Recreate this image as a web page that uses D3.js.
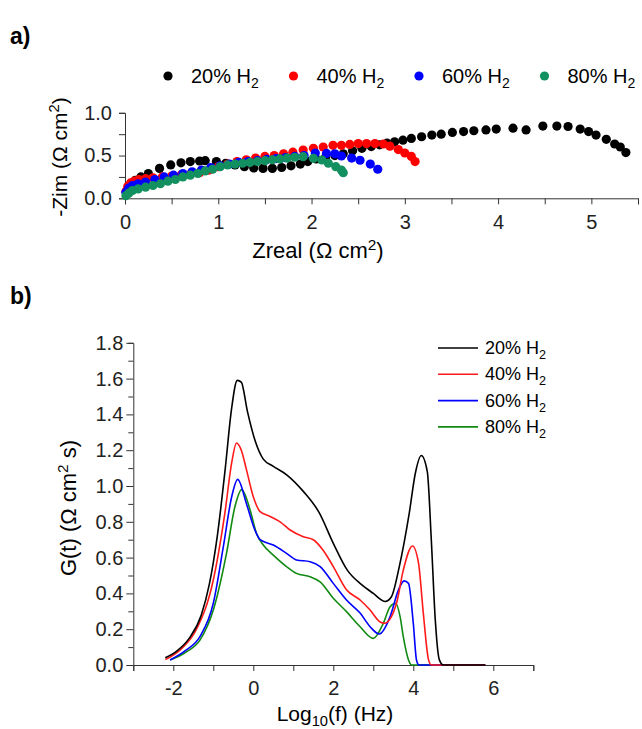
<!DOCTYPE html>
<html>
<head>
<meta charset="utf-8">
<script src="https://cdn.jsdelivr.net/npm/d3@7"></script>
<style>
  body { margin: 0; background: #fff; }
  svg { font-family: "Liberation Sans", Arial, sans-serif; }
  .axis path, .axis line { stroke: #333; }
  .axis text { font-size: 20px; fill: #222; }
</style>
</head>
<body>
<svg id="chart"></svg>
<script>
const width = 642;
const height = 729;

// series labels and colours
const series = ["20%", "40%", "60%", "80%"];
const dotColors = ["#000000", "#ff0000", "#0000ff", "#13905f"];
const lineColors = ["#000000", "#ff1a1a", "#0000ff", "#118a11"];

// panel a) Nyquist data: [Zreal, -Zim]
const nyq20 = [[0.03,0.10],[0.07,0.16],[0.11,0.21],[0.17,0.25],[0.25,0.29],[0.37,0.35],[0.49,0.39],[0.60,0.415],[0.70,0.43],[0.80,0.436],[0.86,0.44],[0.98,0.43],[1.08,0.41],[1.18,0.39],[1.28,0.37],[1.38,0.355],[1.48,0.35],[1.58,0.35],[1.68,0.36],[1.78,0.38],[1.88,0.40],[1.96,0.43],[2.05,0.46],[2.15,0.48],[2.25,0.50],[2.34,0.52],[2.44,0.555],[2.54,0.585],[2.64,0.605],[2.73,0.625],[2.81,0.645],[2.89,0.66],[2.98,0.68],[3.07,0.70],[3.18,0.72],[3.29,0.74],[3.39,0.75],[3.51,0.77],[3.63,0.78],[3.74,0.79],[3.87,0.80],[3.98,0.81],[4.16,0.82],[4.30,0.80],[4.48,0.845],[4.63,0.845],[4.75,0.84],[4.88,0.81],[4.97,0.78],[5.05,0.74],[5.16,0.69],[5.25,0.635],[5.31,0.60],[5.37,0.535]];
const nyq40 = [[0.01,0.08],[0.03,0.14],[0.06,0.18],[0.10,0.20],[0.15,0.22],[0.22,0.23],[0.30,0.24],[0.40,0.25],[0.50,0.26],[0.60,0.27],[0.70,0.28],[0.80,0.30],[0.90,0.33],[1.00,0.37],[1.10,0.40],[1.20,0.43],[1.30,0.45],[1.40,0.47],[1.50,0.49],[1.60,0.50],[1.70,0.52],[1.80,0.54],[1.91,0.565],[2.02,0.585],[2.125,0.60],[2.23,0.62],[2.32,0.62],[2.41,0.63],[2.50,0.64],[2.59,0.64],[2.68,0.64],[2.77,0.635],[2.84,0.61],[2.93,0.57],[3.00,0.53],[3.07,0.49],[3.11,0.43]];
const nyq60 = [[0.01,0.07],[0.04,0.12],[0.08,0.15],[0.14,0.17],[0.22,0.19],[0.32,0.22],[0.42,0.25],[0.52,0.27],[0.62,0.29],[0.72,0.31],[0.82,0.33],[0.92,0.36],[1.02,0.38],[1.12,0.40],[1.22,0.42],[1.32,0.43],[1.42,0.44],[1.52,0.455],[1.62,0.465],[1.72,0.475],[1.82,0.49],[1.92,0.50],[2.04,0.53],[2.16,0.525],[2.25,0.52],[2.32,0.495],[2.43,0.47],[2.52,0.445],[2.63,0.40],[2.71,0.34]];
const nyq80 = [[0.01,0.03],[0.04,0.06],[0.08,0.09],[0.14,0.11],[0.22,0.13],[0.30,0.15],[0.38,0.17],[0.46,0.20],[0.54,0.22],[0.62,0.25],[0.70,0.27],[0.78,0.29],[0.86,0.32],[0.94,0.34],[1.02,0.37],[1.10,0.39],[1.18,0.40],[1.26,0.41],[1.34,0.42],[1.42,0.43],[1.50,0.44],[1.58,0.45],[1.66,0.46],[1.74,0.47],[1.82,0.48],[1.91,0.487],[2.02,0.468],[2.11,0.448],[2.18,0.41],[2.26,0.37],[2.32,0.33],[2.34,0.30]];

// panel b) DRT data: [log10(f), G(t)]
const drt20 = [[-2.2,0.04],[-1.9,0.08],[-1.6,0.15],[-1.3,0.28],[-1.1,0.45],[-0.9,0.72],[-0.7,1.1],[-0.55,1.42],[-0.4,1.59],[-0.3,1.58],[-0.15,1.42],[0.05,1.25],[0.25,1.15],[0.5,1.11],[0.85,1.06],[1.25,0.97],[1.65,0.85],[2.0,0.68],[2.35,0.53],[2.7,0.45],[3.0,0.40],[3.3,0.355],[3.45,0.38],[3.65,0.55],[3.9,0.85],[4.05,1.07],[4.2,1.17],[4.35,1.08],[4.45,0.7],[4.55,0.25],[4.65,0.03],[4.75,0.0],[5.8,0.0]];
const drt40 = [[-2.2,0.03],[-1.8,0.09],[-1.42,0.2],[-1.0,0.475],[-0.71,0.85],[-0.54,1.13],[-0.42,1.24],[-0.3,1.2],[-0.17,1.09],[0.0,0.94],[0.17,0.857],[0.42,0.83],[0.67,0.80],[0.92,0.754],[1.25,0.717],[1.5,0.70],[1.75,0.64],[2.0,0.55],[2.33,0.42],[2.67,0.363],[2.92,0.307],[3.17,0.24],[3.28,0.233],[3.58,0.345],[3.75,0.53],[3.98,0.665],[4.13,0.57],[4.25,0.29],[4.38,0.03],[4.45,0.0],[5.8,0.0]];
const drt60 = [[-2.08,0.028],[-1.7,0.08],[-1.33,0.16],[-1.0,0.345],[-0.75,0.66],[-0.54,0.94],[-0.39,1.037],[-0.17,0.90],[0.04,0.754],[0.17,0.70],[0.5,0.67],[0.83,0.624],[1.08,0.587],[1.42,0.577],[1.67,0.55],[2.0,0.456],[2.33,0.363],[2.67,0.29],[2.92,0.214],[3.15,0.173],[3.42,0.27],[3.63,0.42],[3.77,0.47],[3.88,0.456],[4.0,0.233],[4.08,0.028],[4.14,0.0],[5.8,0.0]];
const drt80 = [[-2.08,0.028],[-1.7,0.07],[-1.33,0.14],[-1.0,0.307],[-0.67,0.624],[-0.46,0.884],[-0.29,0.98],[-0.08,0.866],[0.08,0.735],[0.25,0.67],[0.5,0.614],[0.83,0.55],[1.08,0.512],[1.42,0.493],[1.67,0.465],[2.0,0.373],[2.33,0.298],[2.67,0.214],[3.0,0.149],[3.25,0.233],[3.42,0.326],[3.56,0.345],[3.67,0.27],[3.75,0.158],[3.88,0.028],[3.96,0.0],[5.8,0.0]];

const nyqData = [nyq20, nyq40, nyq60, nyq80];
const drtData = [drt20, drt40, drt60, drt80];

const svg = d3.select("#chart").attr("width", width).attr("height", height);

// helper: text with H2 subscript
function h2Label(sel, pct) {
  sel.append("tspan").text(pct + " H");
  sel.append("tspan").attr("font-size", "0.7em").attr("dy", 5).text("2");
}

// helper: "(Ω cm²" + rest
function unitLabel(sel, pre, post) {
  sel.append("tspan").text(pre + "(Ω cm");
  sel.append("tspan").attr("font-size", "0.7em").attr("dy", -8).text("2");
  sel.append("tspan").attr("dy", 8).text(post);
}

// panel labels
svg.append("text").attr("x", 10).attr("y", 44)
  .attr("font-size", 23).attr("font-weight", "bold").text("a)");
svg.append("text").attr("x", 10).attr("y", 304)
  .attr("font-size", 23).attr("font-weight", "bold").text("b)");

// ---------- panel a ----------
const xA = d3.scaleLinear().domain([0, 5.5]).range([125, 638]);
const yA = d3.scaleLinear().domain([0, 1]).range([198.3, 112.8]);

const gA = svg.append("g");

gA.append("g").attr("class", "axis")
  .attr("transform", `translate(0,${yA(0)})`)
  .call(d3.axisBottom(xA).tickValues(d3.range(0, 5.51, 0.5)).tickSize(6)
    .tickFormat(d => Number.isInteger(d) ? d : ""))
  .call(g => g.selectAll("text").attr("dy", "1.1em"));

gA.append("g").attr("class", "axis")
  .attr("transform", `translate(${xA(0)},0)`)
  .call(d3.axisLeft(yA).tickValues(d3.range(0, 1.01, 0.25)).tickSize(6)
    .tickFormat(d => d % 0.5 === 0 ? d3.format(".1f")(d) : ""))
  .call(g => g.selectAll("text").attr("x", -13));

nyqData.forEach((data, i) => {
  gA.append("g").selectAll("circle")
    .data(data)
    .enter()
    .append("circle")
    .attr("cx", d => xA(d[0]))
    .attr("cy", d => yA(d[1]))
    .attr("r", 4.6)
    .attr("fill", dotColors[i]);
});

// axis titles a
const xtA = svg.append("text").attr("x", 318).attr("y", 258)
  .attr("text-anchor", "middle").attr("font-size", 22);
xtA.append("tspan").text("Zreal ");
unitLabel(xtA, "", ")");

const ytA = svg.append("text")
  .attr("transform", "translate(67,157) rotate(-90)")
  .attr("text-anchor", "middle").attr("font-size", 21);
ytA.append("tspan").text("-Zim ");
unitLabel(ytA, "", ")");

// legend a
const legA = svg.append("g").attr("transform", "translate(0,76)");
series.forEach((s, i) => {
  const x0 = 168 + i * 125.5;
  legA.append("circle").attr("cx", x0).attr("cy", 0).attr("r", 4.6).attr("fill", dotColors[i]);
  const t = legA.append("text").attr("x", x0 + 23).attr("y", 7).attr("font-size", 20);
  h2Label(t, s);
});

// ---------- panel b ----------
const xB = d3.scaleLinear().domain([-3, 7]).range([133.3, 533.3]);
const yB = d3.scaleLinear().domain([0, 1.8]).range([665, 342.8]);

const gB = svg.append("g");

gB.append("g").attr("class", "axis")
  .attr("transform", `translate(0,${yB(0)})`)
  .call(d3.axisBottom(xB).tickValues(d3.range(-3, 7.01, 1)).tickSize(6)
    .tickFormat(d => d % 2 === 0 ? d : ""))
  .call(g => g.selectAll("text").attr("dy", "1.05em"));

gB.append("g").attr("class", "axis")
  .attr("transform", `translate(${xB(-3)},0)`)
  .call(d3.axisLeft(yB).tickValues(d3.range(0, 1.81, 0.1).map(v => +v.toFixed(1))).tickSize(5)
    .tickFormat(d => Math.round(d * 10) % 2 === 0 ? d3.format(".1f")(d) : ""))
  .call(g => g.selectAll(".tick").filter(d => Math.round(d * 10) % 2 === 0)
    .select("line").attr("x2", -7))
  .call(g => g.selectAll("text").attr("x", -10));

const line = d3.line()
  .x(d => xB(d[0]))
  .y(d => yB(d[1]))
  .curve(d3.curveMonotoneX);

drtData.slice().reverse().forEach((data, j) => {
  const i = drtData.length - 1 - j;
  gB.append("path")
    .datum(data)
    .attr("fill", "none")
    .attr("stroke", lineColors[i])
    .attr("stroke-width", 1.6)
    .attr("d", line);
});

// axis titles b
const xtB = svg.append("text").attr("x", 335).attr("y", 721)
  .attr("text-anchor", "middle").attr("font-size", 21);
xtB.append("tspan").text("Log");
xtB.append("tspan").attr("font-size", "0.7em").attr("dy", 5).text("10");
xtB.append("tspan").attr("dy", -5).text("(f) (Hz)");

const ytB = svg.append("text")
  .attr("transform", "translate(76,508) rotate(-90)")
  .attr("text-anchor", "middle").attr("font-size", 22);
ytB.append("tspan").text("G(t) ");
unitLabel(ytB, "", " s)");

// legend b
const legB = svg.append("g");
series.forEach((s, i) => {
  const y0 = 348 + i * 26.3;
  legB.append("line").attr("x1", 438).attr("x2", 478).attr("y1", y0).attr("y2", y0)
    .attr("stroke", lineColors[i]).attr("stroke-width", 1.6);
  const t = legB.append("text").attr("x", 485).attr("y", y0 + 6).attr("font-size", 18);
  h2Label(t, s);
});
</script>
</body>
</html>
